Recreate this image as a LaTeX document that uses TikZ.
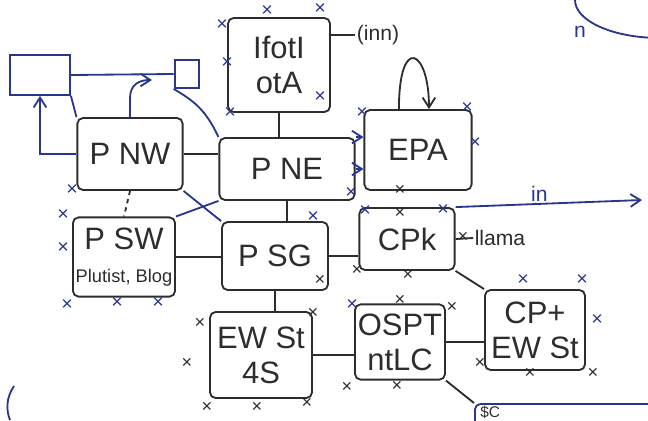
\documentclass[tikz,border=0pt]{standalone}
\usepackage{fontspec}
\setmainfont{Liberation Sans}
\usepackage{xcolor}
\definecolor{ink-black}{RGB}{45,45,45}
\definecolor{ink-blue}{RGB}{40,55,140}
\usetikzlibrary{positioning,arrows.meta}

\begin{document}
\begin{tikzpicture}[
    x=0.025cm, y=-0.025cm,
    sketch box/.style={
        draw=ink-black,
        line width=1.3pt,
        rounded corners=4pt,
        text=ink-black,
        font=\fontsize{22}{25}\selectfont,
        align=center,
        inner sep=2pt
    },
    blue box/.style={
        draw=ink-blue,
        line width=1.3pt,
        inner sep=0pt
    },
    wire/.style={draw=ink-black, line width=1.3pt},
    blue wire/.style={draw=ink-blue, line width=1.3pt},
    arrow/.style={-{Straight Barb[length=7pt,width=9pt]}},
    port/.style={text=ink-blue, font=\fontsize{14}{14}\selectfont, inner sep=0pt},
    tick/.style={text=ink-black, font=\fontsize{13}{13}\selectfont, inner sep=0pt},
    note/.style={font=\fontsize{15}{16}\selectfont, inner sep=1pt}
]
\useasboundingbox (0,0) rectangle (648,420);

% Boxes
\node[sketch box, minimum width=2.55cm, minimum height=2.35cm] (ifoti) at (279,65) {IfotI\\otA};
\node[sketch box, minimum width=2.63cm, minimum height=1.8cm] (pnw) at (130,154) {P NW};
\node[sketch box, minimum width=3.38cm, minimum height=1.55cm] (pne) at (287,169) {P NE};
\node[sketch box, minimum width=2.68cm, minimum height=2.0cm] (epa) at (418,150) {EPA};
\node[sketch box, minimum width=2.38cm, minimum height=1.98cm] (psw) at (124,257) {P SW\\[-2pt]{\fontsize{13}{14}\selectfont Plutist, Blog}};
\node[sketch box, minimum width=2.65cm, minimum height=1.7cm] (psg) at (275,256) {P SG};
\node[sketch box, minimum width=2.38cm, minimum height=1.55cm] (cpk) at (407,239) {CPk};
\node[sketch box, minimum width=2.55cm, minimum height=2.15cm] (ewst) at (261,355) {EW St\\4S};
\node[sketch box, minimum width=2.25cm, minimum height=1.88cm] (ospt) at (400,342) {OSPT\\ntLC};
\node[sketch box, minimum width=2.5cm, minimum height=2.0cm] (cpew) at (535,330) {CP+\\EW St};
\node[blue box, rounded corners=4pt, minimum width=4.7cm, minimum height=1.2cm, anchor=north west] (sc) at (474,403) {};
\node[text=ink-black, font=\fontsize{11}{12}\selectfont, inner sep=0pt, anchor=north west] (sclabel) at (480,406) {\$C};

% Blue boxes, top left
\node[blue box, minimum width=1.5cm, minimum height=1.0cm] (memo) at (40,75) {};
\node[blue box, minimum width=0.62cm, minimum height=0.7cm] (tab) at (187,74) {};

% Labels
\node[note, text=ink-black] (inn) at (378,35) {(inn)};
\node[note, text=ink-black] (llama) at (500,238) {llama};
\node[note, text=ink-blue] (oval n) at (580,32) {n};
\coordinate (in exit) at (642,200);
\coordinate (nw tip) at (152,80);

% Black connectors
\draw[wire] (ifoti.east |- inn.west) -- (inn.west);
\draw[wire] (ifoti.south) -- (ifoti.south |- pne.north);
\draw[wire] (pnw.east) -- (pnw.east -| pne.west);
\draw[wire, dashed] (pnw.south) -- (psw.north);
\draw[wire] (pne.south) -- (pne.south |- psg.north);
\draw[wire] (psw.east) -- (psw.east -| psg.west);
\draw[wire] (psg.east) -- (psg.east -| cpk.west);
\draw[wire] (psg.south) -- (psg.south |- ewst.north);
\draw[wire] (ewst.east) -- (ewst.east -| ospt.west);
\draw[wire] (ospt.east) -- (ospt.east -| cpew.west);
\draw[wire] (cpk.south east) -- (cpew.north west);
\draw[wire] (ospt.south east) -- (sc.north west);
\draw[wire, arrow] (epa.115) .. controls +(0,-75) and +(0,-60) .. (epa.75);
\draw[wire] (cpk.east) -- (llama.west);

% Blue connectors
\draw[blue wire, arrow] (pne.north east) -- (pne.north east -| epa.west);
\draw[blue wire, arrow] (pne.east) -- (pne.east -| epa.west);
\draw[blue wire] (pnw.south east) -- (psg.north west);
\draw[blue wire] (psw.north east) -- (pne.south west);
\draw[blue wire] (memo.east) -- (tab.west);
\draw[blue wire] (memo.south east) -- (pnw.north west);
\draw[blue wire, arrow] (pnw.west) -| (memo.south);
\draw[blue wire, arrow] (pnw.north) -- (130,98) .. controls (130,84) and (140,80) .. (nw tip);
\draw[blue wire] (tab.south west) .. controls (192,100) and (205,108) .. (pne.north west);
\draw[blue wire, arrow] (cpk.north east) -- (in exit) node[note, text=ink-blue, pos=0.45, above] (in label) {in};
\draw[blue wire] (660,0) ellipse (85 and 38);
\draw[blue wire] (14,386) .. controls (6,398) and (6,410) .. (10,420);

% Ports
\foreach \px/\py [count=\i] in {267/11, 320/9, 222/25, 227/63, 230/113, 320/97, 72/190,
    362/113, 467/108, 475/143, 351/193, 63/215, 63/248, 67/305, 117/303, 158/303,
    313/217, 365/211, 443/210, 352/305, 523/280, 582/280, 597/320}
    \node[port] (port-\i) at (\px,\py) {×};
\foreach \px/\py [count=\i] in {400/190, 320/280, 200/323, 187/363, 207/407, 257/407,
    307/403, 313/313, 400/213, 463/237, 357/270, 408/275, 400/300, 452/307,
    347/387, 397/386, 480/363, 530/373, 593/373}
    \node[tick] (tick-\i) at (\px,\py) {×};

\end{tikzpicture}
\end{document}
